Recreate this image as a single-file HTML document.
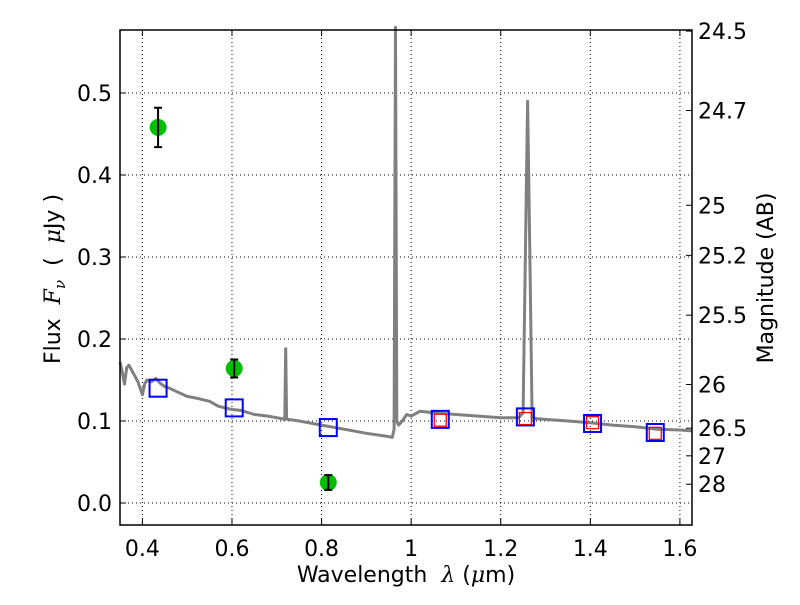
<!DOCTYPE html>
<html><head><meta charset="utf-8"><style>
body{margin:0;background:#fff}
svg{font-family:"DejaVu Sans","Liberation Sans",sans-serif}
</style></head><body>
<svg id="c" width="800" height="600"></svg>
<script>
const specWave=[0.35,0.355,0.36,0.365,0.37,0.38,0.39,0.40,0.405,0.41,0.42,0.43,0.44,0.45,0.46,0.48,0.50,0.52,0.55,0.57,0.6,0.62,0.65,0.68,0.70,0.718,0.72,0.722,0.725,0.75,0.8,0.85,0.9,0.95,0.958,0.962,0.965,0.968,0.972,0.98,0.99,1.0,1.02,1.05,1.1,1.15,1.2,1.24,1.25,1.26,1.265,1.27,1.28,1.3,1.35,1.4,1.45,1.5,1.55,1.6,1.627];
const specFlux=[0.172,0.16,0.145,0.165,0.168,0.158,0.148,0.132,0.145,0.15,0.148,0.152,0.146,0.142,0.14,0.135,0.13,0.128,0.124,0.118,0.114,0.113,0.108,0.106,0.104,0.102,0.188,0.103,0.102,0.1,0.095,0.09,0.085,0.081,0.08,0.09,0.58,0.1,0.095,0.1,0.108,0.106,0.112,0.11,0.108,0.106,0.104,0.104,0.11,0.49,0.3,0.104,0.103,0.102,0.1,0.098,0.095,0.093,0.09,0.089,0.088];
const modelWave=[0.435,0.605,0.815,1.065,1.255,1.405,1.545];
const modelFlux=[0.140,0.116,0.092,0.102,0.105,0.097,0.086];
const redWave=[1.065,1.255,1.405,1.545];
const redFlux=[0.101,0.103,0.098,0.085];
const obsWave=[0.435,0.605,0.815];
const obsFlux=[0.458,0.164,0.025];
const obsErr=[0.024,0.011,0.009];
const xTicks=[0.4,0.6,0.8,1.0,1.2,1.4,1.6];
const xTickLabels=["0.4","0.6","0.8","1","1.2","1.4","1.6"];
const yTicks=[0,0.1,0.2,0.3,0.4,0.5];
const yTickLabels=["0.0","0.1","0.2","0.3","0.4","0.5"];
const magTicks=[24.5,24.7,25,25.2,25.5,26,26.5,27,28];
const magLabels=["24.5","24.7","25","25.2","25.5","26","26.5","27","28"];

const L=120,R=692,T=30,B=525,X0=0.35,X1=1.627,Y0=-0.0268,Y1=0.5768;
const sx=v=>L+(v-X0)/(X1-X0)*(R-L);
const sy=v=>B-(v-Y0)/(Y1-Y0)*(B-T);
const svg=document.getElementById('c');
const NS='http://www.w3.org/2000/svg';
function mk(t,a,p){const e=document.createElementNS(NS,t);for(const k in a)e.setAttribute(k,a[k]);(p||svg).appendChild(e);return e;}
xTicks.forEach(v=>{const g=mk('line',{x1:sx(v),x2:sx(v),y1:T,y2:B,stroke:'#000','stroke-dasharray':'1,3','stroke-width':1});

});
yTicks.forEach(v=>{const g=mk('line',{x1:L,x2:R,y1:sy(v),y2:sy(v),stroke:'#000','stroke-dasharray':'1,3','stroke-width':1});

});
let d='';specWave.forEach((w,i)=>{d+=(i?'L':'M')+sx(w).toFixed(1)+','+sy(specFlux[i]).toFixed(1);});
const sp=mk('path',{d:d,fill:'none',stroke:'#808080','stroke-width':3,'stroke-linejoin':'round'});


modelWave.forEach((w,i)=>{const r=mk('rect',{x:sx(w)-8.5,y:sy(modelFlux[i])-8.5,width:17,height:17,fill:'none',stroke:'#0000ff','stroke-width':2});

});
redWave.forEach((w,i)=>{const r=mk('rect',{x:sx(w)-6,y:sy(redFlux[i])-6,width:12,height:12,fill:'none',stroke:'#ff0000','stroke-width':1.3});

});
obsWave.forEach((w,i)=>{const x=sx(w);
const c=mk('circle',{cx:x,cy:sy(obsFlux[i]),r:8.5,fill:'#00bf00'});


const t=sy(obsFlux[i]+obsErr[i]),b=sy(obsFlux[i]-obsErr[i]);
const e=mk('path',{d:`M${x},${t}V${b}M${x-4},${t}H${x+4}M${x-4},${b}H${x+4}`,stroke:'#000','stroke-width':2,fill:'none'});

});
const f=mk('rect',{x:L,y:T,width:R-L,height:B-T,fill:'none',stroke:'#000','stroke-width':1.5});


xTicks.forEach((v,i)=>{mk('line',{x1:sx(v),x2:sx(v),y1:B,y2:B-6,stroke:'#000'});mk('line',{x1:sx(v),x2:sx(v),y1:T,y2:T+6,stroke:'#000'});
const t=mk('text',{x:sx(v),y:B+31,'font-size':22,'text-anchor':'middle'});t.textContent=xTickLabels[i];

});
yTicks.forEach((v,i)=>{mk('line',{x1:L,x2:L+6,y1:sy(v),y2:sy(v),stroke:'#000'});
const t=mk('text',{x:L-8,y:sy(v)+8,'font-size':22,'text-anchor':'end'});t.textContent=yTickLabels[i];

});
magTicks.forEach((m,i)=>{const y=sy(Math.pow(10,(23.9-m)/2.5));mk('line',{x1:R-6,x2:R,y1:y,y2:y,stroke:'#000'});
const t=mk('text',{x:R+6,y:y+8,'font-size':22});t.textContent=magLabels[i];

});
</script>
<svg width="800" height="600" style="position:absolute;left:0;top:0">
<text x="406" y="582" font-size="22" text-anchor="middle" font-family="DejaVu Sans,sans-serif" xml:space="preserve">Wavelength  <tspan font-family="DejaVu Serif,serif" font-style="italic">λ</tspan> (<tspan font-family="DejaVu Serif,serif" font-style="italic">μ</tspan>m)</text>
<text transform="translate(60,279) rotate(-90)" font-size="22" text-anchor="middle" font-family="DejaVu Sans,sans-serif" xml:space="preserve">Flux  <tspan font-family="DejaVu Serif,serif" font-style="italic">F</tspan><tspan font-family="DejaVu Serif,serif" font-style="italic" font-size="15" dy="5">ν</tspan><tspan dy="-5">  (  </tspan><tspan font-family="DejaVu Serif,serif" font-style="italic">μ</tspan>Jy )</text>
<text transform="translate(773,278) rotate(-90)" font-size="22" text-anchor="middle" font-family="DejaVu Sans,sans-serif">Magnitude (AB)</text>
</svg>
</body></html>
